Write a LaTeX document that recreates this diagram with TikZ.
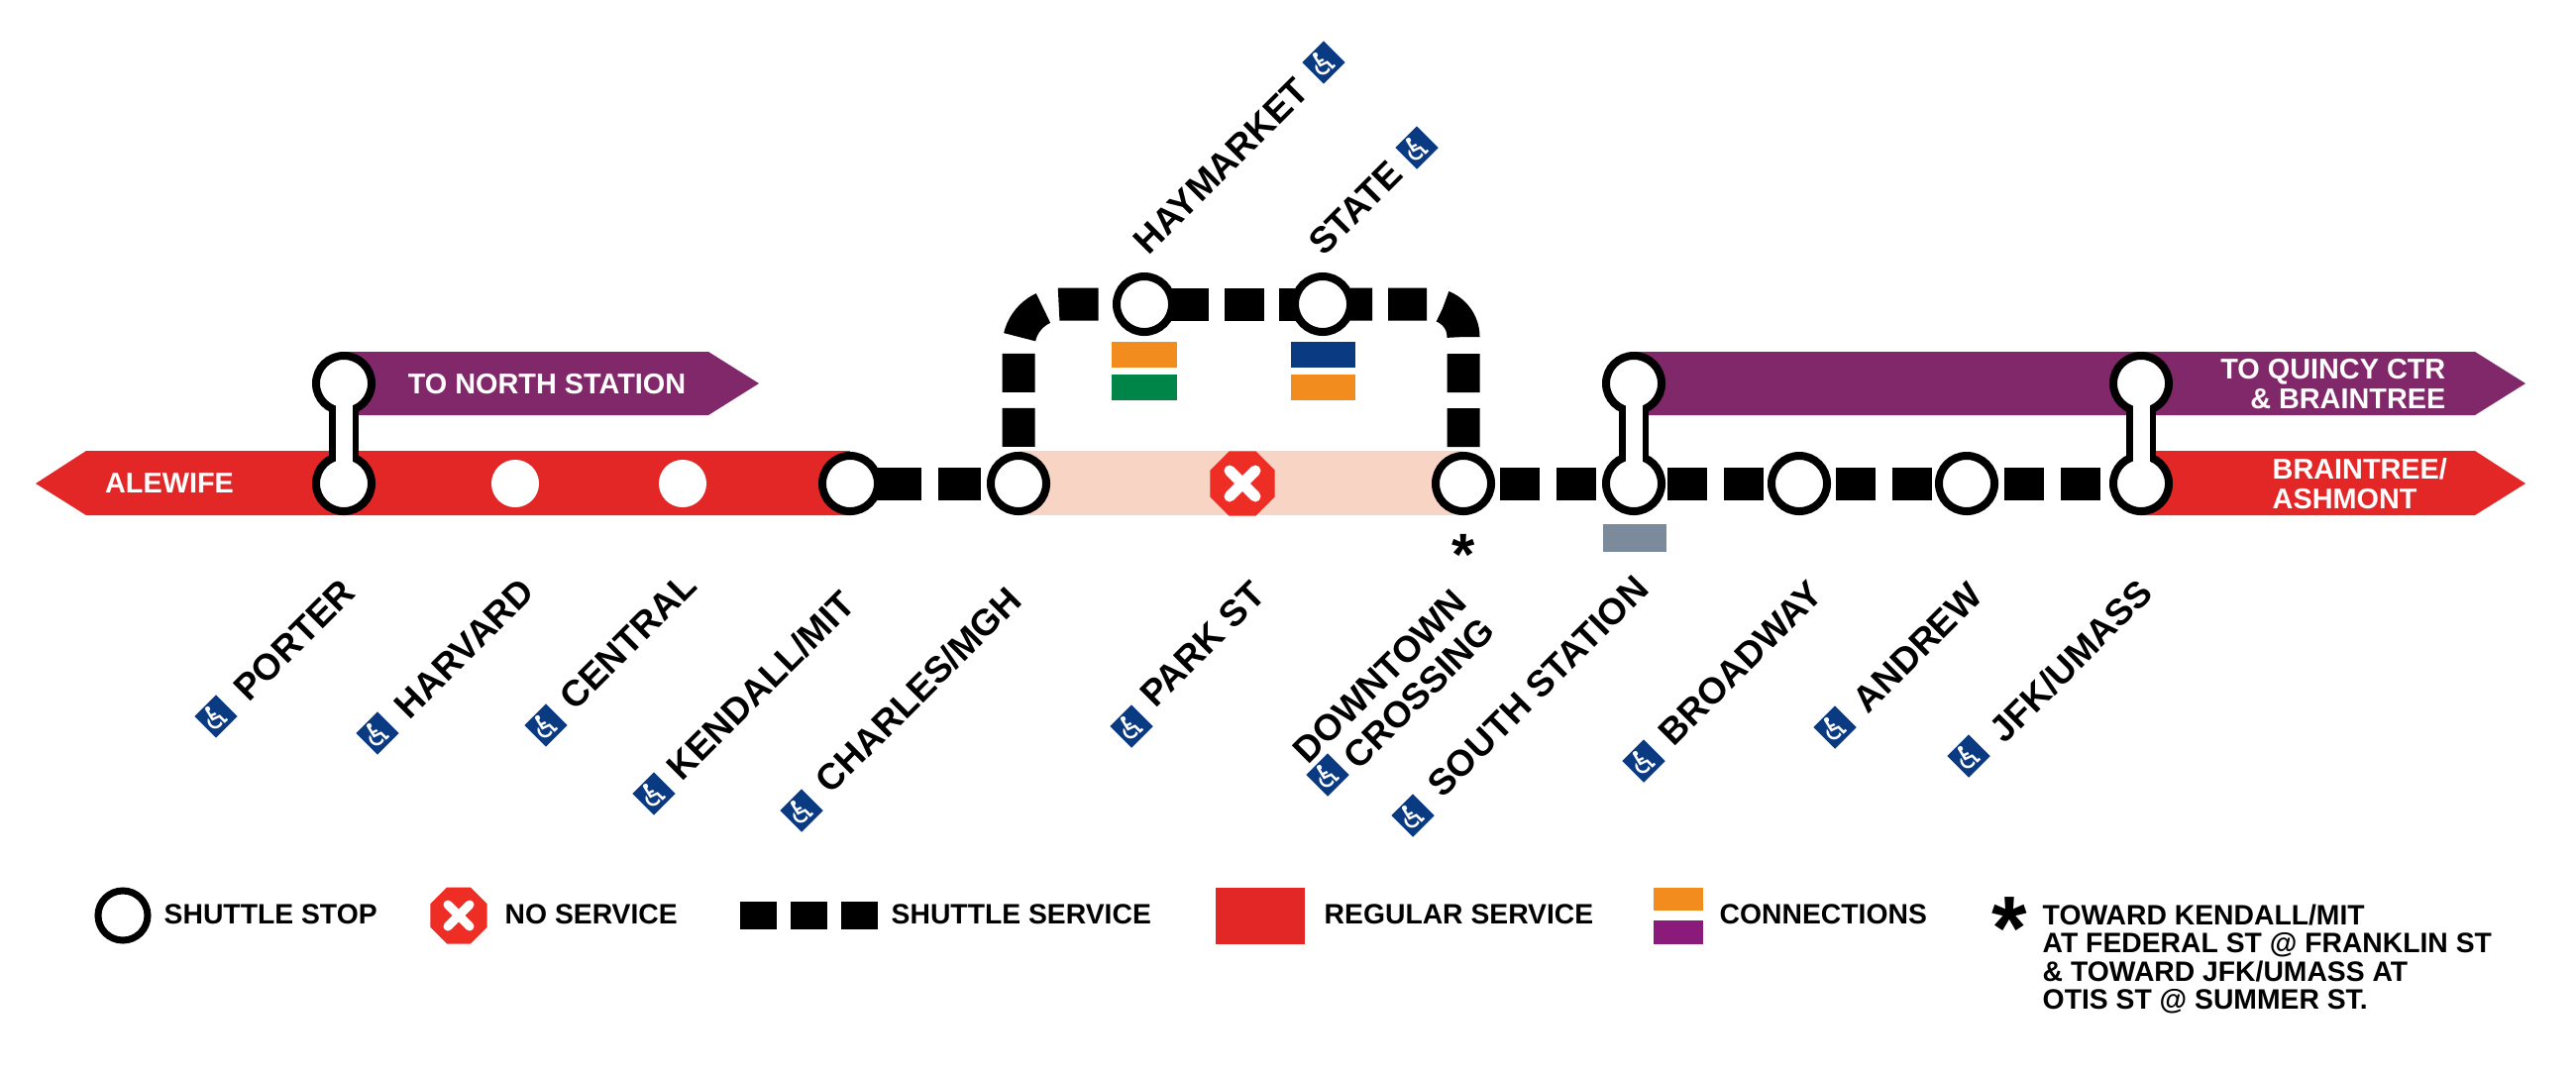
\documentclass[tikz,border=0pt]{standalone}
\usepackage{fontspec}
\setmainfont{Liberation Sans}
\newfontfamily\wheelfont{DejaVu Sans}
\usetikzlibrary{shapes.geometric,backgrounds}
\definecolor{redline}{HTML}{E32626}
\definecolor{purpleline}{HTML}{81286A}
\definecolor{paleline}{HTML}{F8D4C4}
\definecolor{stopred}{HTML}{EE2E24}
\definecolor{adablue}{HTML}{0A3A82}
\definecolor{orangeline}{HTML}{F28C1E}
\definecolor{greenline}{HTML}{008548}
\definecolor{silverline}{HTML}{7C8B9C}
\definecolor{keypurple}{HTML}{8A1B7B}
\begin{document}
\begin{tikzpicture}[
    x=0.01cm, y=-0.01cm,
    stop/.style={circle, draw, fill=white, line width=0.08cm, minimum size=0.56cm, inner sep=0pt},
    plainstop/.style={circle, fill=white, minimum size=0.48cm, inner sep=0pt},
    transferbar/.style={draw=black, line width=0.30cm},
    transferhole/.style={draw=white, line width=0.17cm},
    shuttle/.style={draw=black, line width=0.33cm},
    twoblocks/.style={dash pattern=on 0cm off #1 on 0.4cm off 0.17cm on 0.4cm off 1cm},
    closedstop/.style={regular polygon, regular polygon sides=8, fill=stopred, minimum size=0.704cm, inner sep=0pt},
    crossbar/.style={draw=white, line width=0.11cm, line cap=round},
    station/.style={rotate=45, anchor=west, inner sep=0pt, font=\bfseries\fontsize{10.5}{11.4}\selectfont},
    access/.style={diamond, fill=adablue, minimum width=0.44cm, minimum height=0.44cm, inner sep=0pt,
        label={[text=white, inner sep=0pt, rotate=25, font=\wheelfont\fontsize{9.5}{9.5}\selectfont]center:♿}},
    bandtext/.style={text=white, inner sep=0pt, font=\bfseries\fontsize{8.2}{8.5}\selectfont},
    keytext/.style={anchor=west, inner sep=0pt, font=\bfseries\fontsize{8.05}{8.1}\selectfont},
    connect/.style={minimum width=0.65cm, minimum height=0.265cm, inner sep=0pt}
]
\useasboundingbox (0,0) rectangle (2600,1087);

% Stops on the main row
\node[stop] (porter) at (347,488) {};
\node[plainstop] (harvard) at (520,488) {};
\node[plainstop] (central) at (689,488) {};
\node[stop] (kendall) at (858,488) {};
\node[stop] (charles) at (1028,488) {};
\node[stop] (downtown) at (1477,488) {};
\node[stop] (south) at (1649,488) {};
\node[stop] (broadway) at (1816,488) {};
\node[stop] (andrew) at (1985,488) {};
\node[stop] (jfk) at (2161,488) {};

% Stops above
\node[stop] (porternorth) at (347,387) {};
\node[stop] (southnorth) at (1649,387) {};
\node[stop] (jfknorth) at (2161,387) {};
\node[stop] (haymarket) at (1155,307) {};
\node[stop] (state) at (1335,307) {};

% Bands and shuttle line
\begin{scope}[on background layer]
\fill[redline] (36,488) -- (87,455) -- (kendall.center |- 0,455) -- (kendall.center |- 0,520) -- (87,520) -- cycle;
\fill[purpleline] (porternorth.center |- 0,355) -- (715,355) -- (766,387) -- (715,419) -- (porternorth.center |- 0,419) -- cycle;
\fill[purpleline] (southnorth.center |- 0,355) -- (2498,355) -- (2549,387) -- (2498,419) -- (southnorth.center |- 0,419) -- cycle;
\fill[redline] (jfk.center |- 0,455) -- (2498,455) -- (2549,488) -- (2498,520) -- (jfk.center |- 0,520) -- cycle;
\fill[paleline] (charles.center |- 0,455) rectangle (downtown.center |- 0,520);

\draw[shuttle, dash pattern=on 0.72cm off 0.17cm on 0.43cm off 1cm] (kendall.center) -- (charles.center);
\draw[shuttle, twoblocks=0.37cm] (downtown.center) -- (south.center);
\draw[shuttle, twoblocks=0.34cm] (south.center) -- (broadway.center);
\draw[shuttle, twoblocks=0.37cm] (broadway.center) -- (andrew.center);
\draw[shuttle, twoblocks=0.38cm] (andrew.center) -- (jfk.center);

\draw[shuttle, rounded corners=0.43cm, dash pattern=on 0cm off 0.37cm on 0.39cm off 0.16cm on 0.39cm off 0.168cm on 0.39cm off 0.162cm on 0.4cm off 1cm] (charles.center) |- (haymarket.center);
\draw[shuttle, dash pattern=on 0.65cm off 0.16cm on 0.4cm off 0.15cm on 1cm] (haymarket.center) -- (state.center);
\draw[shuttle, rounded corners=0.33cm, dash pattern=on 0.5cm off 0.16cm on 0.39cm off 0.169cm on 0.389cm off 0.17cm on 0.39cm off 0.16cm on 0.39cm off 1cm] (state.center) -| (downtown.center);

\draw[transferbar] (porternorth.center) -- (porter.center);
\draw[transferbar] (southnorth.center) -- (south.center);
\draw[transferbar] (jfknorth.center) -- (jfk.center);
\end{scope}

% Openings of the transfers
\draw[transferhole] (porternorth.center) -- (porter.center);
\draw[transferhole] (southnorth.center) -- (south.center);
\draw[transferhole] (jfknorth.center) -- (jfk.center);

% Closed station
\node[closedstop] (parkst) at (1254,488) {};
\draw[crossbar] (1241,475) -- (1267,501);
\draw[crossbar] (1267,475) -- (1241,501);

% Text in the bands
\node[bandtext] (alewifetext) at (171,488) {ALEWIFE};
\node[bandtext] (northtext) at (552,388) {TO NORTH STATION};
\node[bandtext, align=right, anchor=east] (quincytext) at (2469,388) {TO QUINCY CTR\\\& BRAINTREE};
\node[bandtext, align=left, anchor=west] (ashmonttext) at (2293,488) {BRAINTREE/\\ASHMONT};

% Connections
\node[connect, fill=orangeline] (hayorange) at (1155,358) {};
\node[connect, fill=greenline] (haygreen) at (1155,391) {};
\node[connect, fill=adablue] (stateblue) at (1335,358) {};
\node[connect, fill=orangeline] (stateorange) at (1335,391) {};
\node[minimum width=0.64cm, minimum height=0.28cm, inner sep=0pt, fill=silverline] (southsilver) at (1650,543) {};
\node[inner sep=0pt, font=\bfseries\fontsize{17}{17}\selectfont] (downtownstar) at (1477,560) {*};

% Station names
\node[station] (porterlabel) at (242,701) {PORTER};
\node[access] (porteraccess) at (218,723) {};
\node[station] (harvardlabel) at (404,719) {HARVARD};
\node[access] (harvardaccess) at (381,740) {};
\node[station] (centrallabel) at (571,710) {CENTRAL};
\node[access] (centralaccess) at (551,732) {};
\node[station] (kendalllabel) at (679,781) {KENDALL/MIT};
\node[access] (kendallaccess) at (660,801) {};
\node[station] (charleslabel) at (829,794) {CHARLES/MGH};
\node[access] (charlesaccess) at (809,818) {};
\node[station] (parklabel) at (1157,707) {PARK ST};
\node[access] (parkaccess) at (1142,733) {};
\node[station, anchor=center, align=right] (downtownlabel) at (1407,697) {DOWNTOWN\\CROSSING};
\node[access] (downtownaccess) at (1340,782) {};
\node[station] (southlabel) at (1447,798) {SOUTH STATION};
\node[access] (southaccess) at (1426,823) {};
\node[station] (broadwaylabel) at (1680,746) {BROADWAY};
\node[access] (broadwayaccess) at (1659,768) {};
\node[station] (andrewlabel) at (1876,713) {ANDREW};
\node[access] (andrewaccess) at (1852,734) {};
\node[station] (jfklabel) at (2014,743) {JFK/UMASS};
\node[access] (jfkaccess) at (1987,763) {};
\node[station] (haymarketlabel) at (1150,250) {HAYMARKET};
\node[access] (haymarketaccess) at (1336,63) {};
\node[station] (statelabel) at (1327,251) {STATE};
\node[access] (stateaccess) at (1430,149) {};

% Key
\node[stop, line width=0.07cm, minimum size=0.5cm] (keystop) at (124,924) {};
\node[keytext] (keystoptext) at (165,923) {SHUTTLE STOP};
\node[closedstop, minimum size=0.617cm] (keyclosed) at (463,924) {};
\draw[crossbar, line width=0.09cm] (452,913) -- (474,935);
\draw[crossbar, line width=0.09cm] (474,913) -- (452,935);
\node[keytext] (keyclosedtext) at (509,923) {NO SERVICE};
\node[minimum width=0.37cm, minimum height=0.28cm, inner sep=0pt, fill=black] (keyblocka) at (765,924) {};
\node[minimum width=0.37cm, minimum height=0.28cm, inner sep=0pt, fill=black] (keyblockb) at (816,924) {};
\node[minimum width=0.37cm, minimum height=0.28cm, inner sep=0pt, fill=black] (keyblockc) at (867,924) {};
\node[keytext] (keyshuttletext) at (899,923) {SHUTTLE SERVICE};
\node[minimum width=0.89cm, minimum height=0.57cm, inner sep=0pt, fill=redline] (keyregular) at (1272,924) {};
\node[keytext] (keyregulartext) at (1336,923) {REGULAR SERVICE};
\node[minimum width=0.5cm, minimum height=0.23cm, inner sep=0pt, fill=orangeline] (keyorange) at (1694,907) {};
\node[minimum width=0.5cm, minimum height=0.24cm, inner sep=0pt, fill=keypurple] (keypurpleblock) at (1694,941) {};
\node[keytext] (keyconnecttext) at (1735,923) {CONNECTIONS};
\node[inner sep=0pt, font=\bfseries\fontsize{26}{26}\selectfont] (keystar) at (2028,937) {*};
\node[keytext, anchor=north west, align=left] (keynote) at (2061,912) {TOWARD KENDALL/MIT\\AT FEDERAL ST @ FRANKLIN ST\\\& TOWARD JFK/UMASS AT\\OTIS ST @ SUMMER ST.};
\end{tikzpicture}
\end{document}
